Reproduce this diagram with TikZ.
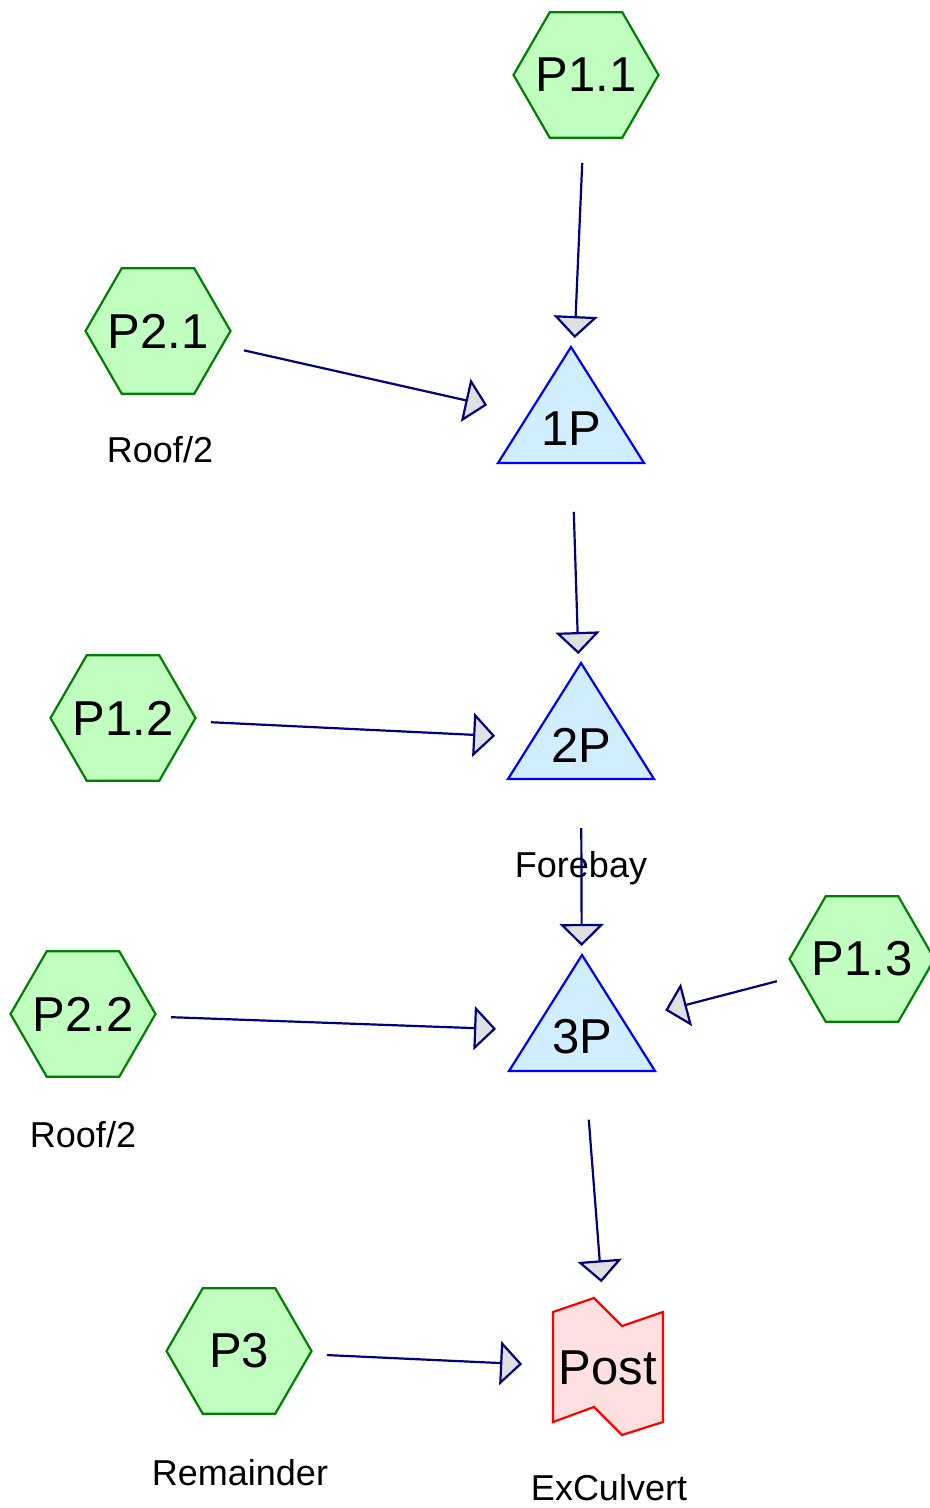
\documentclass[tikz,border=0pt]{standalone}
\usepackage{fontspec}
\setmainfont{Liberation Sans}
\usetikzlibrary{shapes.geometric,arrows.meta}

\definecolor{hexgreen}{RGB}{192,255,192}
\definecolor{hexedge}{RGB}{0,128,0}
\definecolor{pumpblue}{RGB}{208,238,255}
\definecolor{postpink}{RGB}{255,224,224}
\definecolor{flownavy}{RGB}{0,0,128}
\definecolor{tipgray}{RGB}{224,224,224}

\tikzset{
  bigtext/.style={font=\fontsize{24.5}{29}\selectfont},
  hexnode/.style={regular polygon, regular polygon sides=6, minimum size=72.5pt,
                  inner sep=-15pt, draw=hexedge, fill=hexgreen, line width=1.1pt, bigtext},
  pumpnode/.style={inner sep=0pt, minimum size=0pt},
  pumpshape/.style={draw=blue, fill=pumpblue, line width=1.1pt},
  postshape/.style={draw=red, fill=postpink, line width=1.1pt},
  tag/.style={anchor=base, inner sep=0pt, font=\fontsize{18}{21}\selectfont},
  flow/.style={draw=flownavy, line width=1.1pt, shorten <=44pt, shorten >=43pt,
               -{Triangle[length=11pt,width=22pt,fill=tipgray]}}
}

\begin{document}
\begin{tikzpicture}[x=0.5pt, y=-0.5pt]
\useasboundingbox (0,0) rectangle (930,1508);
% source hexagons
\foreach \n/\x/\y/\t in {p11/586/75/P1.1, p21/158/331/P2.1, p12/123/718/P1.2,
                         p22/83/1014/P2.2, p13/862/959/P1.3, p3/239/1351/P3}
\node[hexnode] (\n) at (\x,\y) {\t};
% pumps
\foreach \n/\x/\y/\t in {pump1/571/424/1P, pump2/581/740/2P, pump3/582/1032/3P}
{
\draw[pumpshape] (\x,\y-77) -- (\x+73,\y+39) -- (\x-73,\y+39) -- cycle;
\node[pumpnode, label={[bigtext, yshift=-2.5pt]center:\t}] (\n) at (\x,\y) {};
}
% outlet
\draw[postshape] (553,1312) -- (594,1298) -- (622,1326) -- (663,1312)
  -- (663,1422) -- (622,1435) -- (594,1407) -- (553,1422) -- cycle;
\node[bigtext, inner sep=0pt] (post) at (608,1368) {Post};
% captions
\node[tag] (roof1) at (160,462) {Roof/2};
\node[tag] (forebay) at (581,877) {Forebay};
\node[tag] (roof2) at (83,1147) {Roof/2};
\node[tag] (remainder) at (240,1485) {Remainder};
\node[tag] (exculvert) at (609,1500) {ExCulvert};
% flows
\foreach \a/\b in {p11/pump1, p21/pump1, pump1/pump2, p12/pump2, pump2/pump3,
                   p22/pump3, p13/pump3, pump3/post, p3/post}
\draw[flow] (\a.center) -- (\b.center);
\end{tikzpicture}
\end{document}
